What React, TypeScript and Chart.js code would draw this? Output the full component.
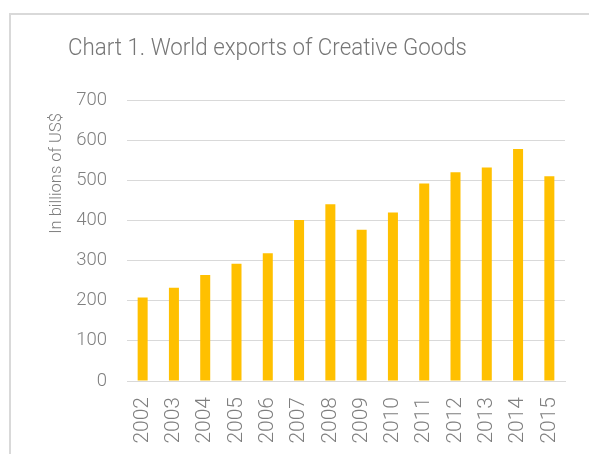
import React, { useEffect, useRef } from "react";
import { Chart, registerables } from "chart.js";

Chart.register(...registerables);

const years = ["2002", "2003", "2004", "2005", "2006", "2007", "2008", "2009", "2010", "2011", "2012", "2013", "2014", "2015"];
const exportsBn = [208, 232, 264, 292, 318, 401, 440, 377, 420, 492, 520, 532, 578, 510];
const yMin = 0;
const yMax = 700;
const yStep = 100;
const chartTitle = "Chart 1. World exports of Creative Goods";
const yAxisTitle = "In billions of US$";

const FONT = "Roboto";
const GRID = "#d9d9d9";
const TEXT = "#7f7f7f";

const overlayTexts = {
  id: "overlayTexts",
  afterDraw(chart: any) {
    const ctx = chart.ctx;
    ctx.save();
    ctx.fillStyle = "#767676";
    ctx.font = `300 24px ${FONT}`;
    ctx.textAlign = "center";
    ctx.textBaseline = "middle";
    ctx.translate(267.5, 48.5);
    ctx.scale(0.93, 1);
    ctx.fillText(chartTitle, 0, 0);
    ctx.restore();
    ctx.save();
    ctx.fillStyle = TEXT;
    ctx.font = `300 16.5px ${FONT}`;
    ctx.textAlign = "center";
    ctx.textBaseline = "middle";
    ctx.translate(57, 173.5);
    ctx.rotate(-Math.PI / 2);
    ctx.fillText(yAxisTitle, 0, 0);
    ctx.restore();
  },
};

export default function App() {
  const ref = useRef<HTMLCanvasElement>(null);
  useEffect(() => {
    if (!ref.current) return;
    const chart = new Chart(ref.current, {
      type: "bar",
      data: {
        labels: years,
        datasets: [
          {
            data: exportsBn,
            backgroundColor: "#FFC000",
            borderWidth: 0,
            barPercentage: 0.32,
            categoryPercentage: 1,
          },
        ],
      },
      options: {
        animation: false,
        responsive: false,
        layout: { padding: { left: 0, right: 24, top: 100, bottom: 0 } },
        plugins: {
          legend: { display: false },
          title: { display: false },
          tooltip: { enabled: false },
        },
        scales: {
          x: {
            grid: { display: false, drawTicks: false },
            border: { display: true, color: GRID, width: 1 },
            ticks: {
              minRotation: 90,
              maxRotation: 90,
              padding: 16,
              color: TEXT,
              font: { family: FONT, size: 21, weight: "300" as any },
            },
            afterFit: (s: any) => {
              s.height = 73;
              s.paddingLeft = 0;
              s.paddingRight = 0;
            },
          },
          y: {
            min: yMin,
            max: yMax,
            grid: { color: GRID, lineWidth: 1, drawTicks: false },
            border: { display: false },
            ticks: {
              stepSize: yStep,
              padding: 20,
              color: TEXT,
              font: { family: FONT, size: 18.5, weight: "300" as any },
            },
            afterFit: (s: any) => {
              s.width = 127;
              s.paddingTop = 0;
              s.paddingBottom = 0;
            },
          },
        },
      },
      plugins: [overlayTexts],
    });
    return () => chart.destroy();
  }, []);

  return (
    <div style={{ position: "absolute", left: 0, top: 0, width: 589, height: 454, overflow: "hidden", background: "#fff" }}>
      <div
        style={{
          position: "absolute",
          left: 9,
          top: 13,
          width: 700,
          height: 600,
          borderTop: "2px solid #d9d9d9",
          borderLeft: "2px solid #d9d9d9",
        }}
      />
      <canvas ref={ref} width={589} height={454} style={{ position: "absolute", left: 0, top: 0, width: 589, height: 454 }} />
    </div>
  );
}
